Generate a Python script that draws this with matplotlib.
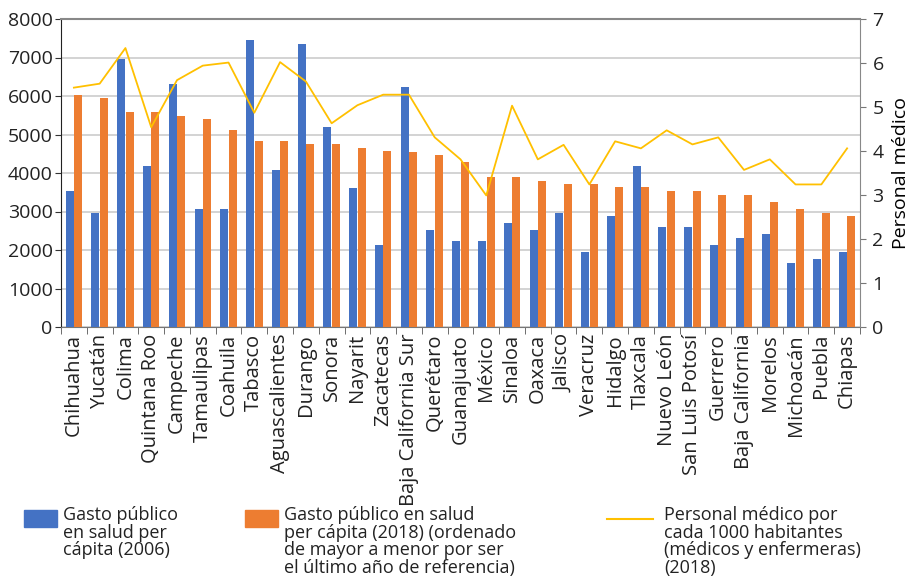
import numpy as np
import matplotlib.pyplot as plt
from matplotlib.patches import Rectangle
from matplotlib.lines import Line2D

# Data
estados = ['Chihuahua', 'Yucatán', 'Colima', 'Quintana Roo', 'Campeche', 'Tamaulipas',
           'Coahuila', 'Tabasco', 'Aguascalientes', 'Durango', 'Sonora', 'Nayarit',
           'Zacatecas', 'Baja California Sur', 'Querétaro', 'Guanajuato', 'México',
           'Sinaloa', 'Oaxaca', 'Jalisco', 'Veracruz', 'Hidalgo', 'Tlaxcala',
           'Nuevo León', 'San Luis Potosí', 'Guerrero', 'Baja California', 'Morelos',
           'Michoacán', 'Puebla', 'Chiapas']

gasto_2006 = [3520, 2950, 6950, 4180, 6300, 3060, 3060, 7450, 4070, 7350,
              5190, 3600, 2120, 6230, 2510, 2230, 2230, 2690, 2510, 2950,
              1940, 2880, 4180, 2590, 2590, 2120, 2310, 2410, 1660, 1760, 1940]
gasto_2018 = [6030, 5940, 5580, 5580, 5480, 5400, 5110, 4830, 4830, 4750,
              4750, 4640, 4570, 4540, 4460, 4280, 3890, 3890, 3790, 3710,
              3710, 3630, 3630, 3530, 3530, 3420, 3420, 3240, 3060, 2950, 2880]
personal = [5.44, 5.53, 6.34, 4.54, 5.61, 5.94, 6.01, 4.87, 6.02, 5.58,
            4.63, 5.04, 5.28, 5.28, 4.31, 3.81, 2.99, 5.03, 3.81, 4.14,
            3.24, 4.22, 4.06, 4.47, 4.15, 4.31, 3.57, 3.81, 3.24, 3.24, 4.06]

blue = '#4472C4'
orange = '#ED7D31'
gold = '#FFC000'

plt.rcParams['font.family'] = ['Open Sans', 'DejaVu Sans']
plt.rcParams['text.color'] = '#222222'
plt.rcParams['xtick.color'] = '#222222'
plt.rcParams['ytick.color'] = '#222222'

fig = plt.figure(figsize=(9.12, 5.85), dpi=100)
ax = fig.add_axes([61 / 912, 1 - 327 / 585, 799 / 912, 308 / 585])

x = np.arange(len(estados))
w = 0.31
ax.bar(x - 0.165, gasto_2006, width=w, color=blue, zorder=3)
ax.bar(x + 0.165, gasto_2018, width=w, color=orange, zorder=3)

ax.set_xlim(-0.5, len(estados) - 0.5)
ax.set_ylim(0, 8000)
ax.set_yticks(range(0, 8001, 1000))
ax.grid(axis='y', color='#cccccc', linewidth=1.2, zorder=0)
ax.set_axisbelow(True)

ax.set_xticks(x)
ax.set_xticklabels(estados, rotation=90, fontsize=14.5)
ax.set_xticks(np.arange(-0.5, len(estados)), minor=True)
ax.tick_params(axis='x', which='major', length=0, pad=5)
ax.tick_params(axis='x', which='minor', length=5, color='#555555', direction='out')
ax.tick_params(axis='y', labelsize=14, length=4, color='#333333', pad=2)

ax.spines['left'].set_color('#222222')
ax.spines['bottom'].set_color('#777777')
ax.spines['top'].set_color('#888888')
ax.spines['top'].set_linewidth(1.5)
ax.spines['right'].set_visible(False)

ax2 = ax.twinx()
ax2.plot(x, personal, color=gold, linewidth=1.3, zorder=4)
ax2.set_ylim(0, 7)
ax2.set_yticks(range(0, 8))
ax2.tick_params(axis='y', labelsize=14, length=4, color='#777777', pad=5)
ax2.spines['right'].set_color('#888888')
ax2.spines['left'].set_visible(False)
ax2.spines['top'].set_visible(False)
ax2.spines['bottom'].set_visible(False)
ax2.set_ylabel('Personal médico', fontsize=14, labelpad=6)

# Legend drawn below the category labels
leg_font = dict(fontsize=13, va='top', ha='left', linespacing=0.98)
fig.add_artist(Rectangle((24 / 912, 1 - 527 / 585), 33 / 912, 17 / 585,
                         color=blue, transform=fig.transFigure))
fig.text(63 / 912, 1 - 506 / 585, 'Gasto público\nen salud per\ncápita (2006)', **leg_font)
fig.add_artist(Rectangle((245 / 912, 1 - 527 / 585), 33 / 912, 17 / 585,
                         color=orange, transform=fig.transFigure))
fig.text(284 / 912, 1 - 506 / 585,
         'Gasto público en salud\nper cápita (2018) (ordenado\n'
         'de mayor a menor por ser\nel último año de referencia)', **leg_font)
fig.add_artist(Line2D([607 / 912, 653 / 912], [1 - 519 / 585, 1 - 519 / 585],
                      color=gold, linewidth=1.5, transform=fig.transFigure))
fig.text(664 / 912, 1 - 506 / 585,
         'Personal médico por\ncada 1000 habitantes\n(médicos y enfermeras)\n(2018)', **leg_font)

fig.savefig('out.png', dpi=100)
